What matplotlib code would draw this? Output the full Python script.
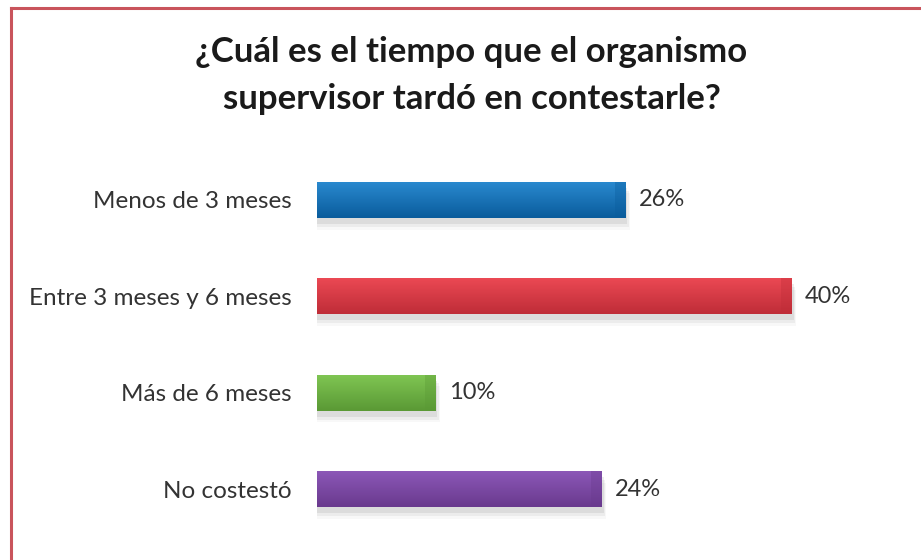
import numpy as np
import matplotlib
matplotlib.use("Agg")
import matplotlib.pyplot as plt
from matplotlib.colors import LinearSegmentedColormap

categories = ["Menos de 3 meses", "Entre 3 meses y 6 meses", "Más de 6 meses", "No costestó"]
values = [26, 40, 10, 24]
top_colors = ["#2a8ad0", "#ec4954", "#80c653", "#8d58b8"]
bottom_colors = ["#0a5c9c", "#bf2d38", "#5a9935", "#693a8e"]

plt.rcParams["font.family"] = ["Lato", "DejaVu Sans"]

fig = plt.figure(figsize=(9.21, 5.6), dpi=100)
fig.patch.set_facecolor("white")

# red frame on the left and top
fig.add_artist(plt.Line2D([10.5 / 921, 10.5 / 921], [0, 1 - 7.5 / 560],
                          color="#c9545c", lw=2.2, transform=fig.transFigure))
fig.add_artist(plt.Line2D([10.5 / 921, 1], [1 - 7.5 / 560, 1 - 7.5 / 560],
                          color="#c9545c", lw=2.2, transform=fig.transFigure))

fig.text(0.512, 1 - 52 / 560, "¿Cuál es el tiempo que el organismo",
         ha="center", va="center", fontsize=25, fontweight="bold", color="#1a1a1a")
fig.text(0.512, 1 - 99 / 560, "supervisor tardó en contestarle?",
         ha="center", va="center", fontsize=25, fontweight="bold", color="#1a1a1a")

ax = fig.add_axes([317 / 921, 22.6 / 560, 593.5 / 921, 385.6 / 560])
ax.set_xlim(0, 50)
ax.set_ylim(3.5, -0.5)
y = np.arange(len(categories))
bar_h = 0.375

# soft shadow under each bar
for dx, dy, a in [(0.15, 0.06, 0.10), (0.25, 0.09, 0.07), (0.35, 0.12, 0.04)]:
    ax.barh(y + dy, np.array(values) + dx, height=bar_h, color="#555555",
            alpha=a, lw=0, zorder=1)

bars = ax.barh(y, values, height=bar_h, color=top_colors, lw=0, zorder=2)

grad = np.linspace(0, 1, 64).reshape(-1, 1)
for bar, c0, c1 in zip(bars, top_colors, bottom_colors):
    cmap = LinearSegmentedColormap.from_list("g", [c0, c1])
    x0, y0 = bar.get_x(), bar.get_y()
    w, h = bar.get_width(), bar.get_height()
    # lighter at the top edge, darker at the bottom
    im = ax.imshow(grad, cmap=cmap, aspect="auto", extent=[x0, x0 + w, y0 + h, y0],
                   zorder=3, interpolation="bicubic")
    im.set_clip_path(bar)
    # darker strip at the bar end
    ax.barh(bar.get_y() + h / 2, 0.9, left=x0 + w - 0.9, height=h,
            color=c1, alpha=0.35, lw=0, zorder=4)
    ax.text(x0 + w + 1.1, bar.get_y() + h / 2, f"{w:.0f}%", ha="left", va="center",
            fontsize=17, color="#333333")
ax.set_xlim(0, 50)
ax.set_ylim(3.5, -0.5)

ax.set_yticks(y)
ax.set_yticklabels(categories, fontsize=17.5, color="#333333")
ax.tick_params(axis="y", length=0, pad=18)
ax.set_xticks([])
for s in ax.spines.values():
    s.set_visible(False)

fig.savefig("out.png", dpi=100, facecolor="white")
